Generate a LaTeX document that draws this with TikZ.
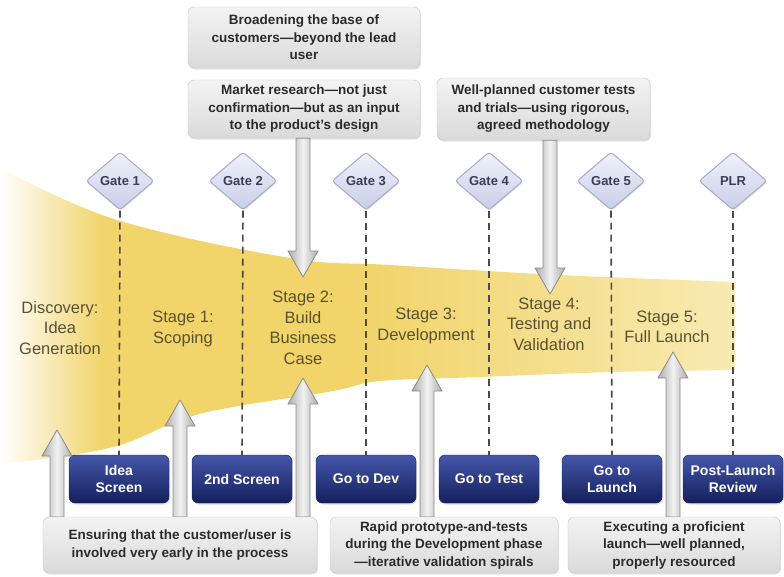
\documentclass[tikz,border=0pt]{standalone}
\usepackage{fontspec}
\setmainfont{Liberation Sans}
\usetikzlibrary{shapes.geometric,shadows,calc}

\definecolor{funY}{HTML}{F1D46A}
\definecolor{funL}{HTML}{F8EAB2}
\definecolor{stagetxt}{HTML}{5A5132}
\definecolor{navyT}{HTML}{4557AA}
\definecolor{navyB}{HTML}{141F5C}
\definecolor{gateT}{HTML}{F0F2FA}
\definecolor{gateB}{HTML}{C8CEE8}
\definecolor{gateD}{HTML}{A3AACB}
\definecolor{gatetxt}{HTML}{3A3F55}
\definecolor{noteT}{HTML}{F3F3F3}
\definecolor{noteB}{HTML}{DADADA}
\definecolor{noteD}{HTML}{C4C4C4}
\definecolor{notetxt}{HTML}{2B2B2B}
\definecolor{arrD}{HTML}{8A8A8A}
\definecolor{arrM}{HTML}{F2F2F2}
\definecolor{arrS}{HTML}{ABABAB}
\definecolor{dashc}{HTML}{4A4A4A}

% white on the left, full yellow in the body, paler towards the narrow end
\pgfdeclarehorizontalshading{funnelfill}{100bp}{color(0bp)=(white); color(25bp)=(white); color(32bp)=(funY); color(50bp)=(funY); color(75bp)=(funL); color(100bp)=(funL)}

% broad hollow-looking arrow from #1 to #2
\newcommand\fatarrow[2]{%
  \coordinate (fa-h) at ($(#2)!26pt!(#1)$);
  \shadedraw[left color=arrS, right color=arrS, middle color=arrM, draw=arrD, line width=0.8pt, line join=round]
    ($(#1)!7pt!90:(#2)$) -- ($(fa-h)!7pt!90:(#2)$) -- ($(fa-h)!15pt!90:(#2)$) -- (#2)
    -- ($(fa-h)!15pt!-90:(#2)$) -- ($(fa-h)!7pt!-90:(#2)$) -- ($(#1)!7pt!-90:(#2)$) -- cycle;}

\tikzset{
  gate/.style={diamond, draw=gateD, line width=1pt, top color=gateT, bottom color=gateB,
    minimum width=68pt, minimum height=58pt, inner sep=0pt, rounded corners=3pt,
    text=gatetxt, font=\bfseries\fontsize{13}{14}\selectfont,
    drop shadow={opacity=0.18, shadow xshift=0.8pt, shadow yshift=-1.2pt}},
  navybox/.style={rounded corners=6pt, top color=navyT, bottom color=navyB, draw=navyB,
    minimum width=100pt, minimum height=48pt, inner sep=0pt, text=white, align=center,
    font=\bfseries\fontsize{14}{16.5}\selectfont,
    drop shadow={opacity=0.25, shadow xshift=1pt, shadow yshift=-1.5pt}},
  note/.style={rounded corners=6pt, top color=noteT, bottom color=noteB, draw=noteD,
    inner sep=0pt, align=center, text=notetxt,
    font=\bfseries\fontsize{13.5}{17.5}\selectfont,
    drop shadow={opacity=0.22, shadow xshift=1pt, shadow yshift=-1.5pt}},
  stage/.style={align=center, text=stagetxt, font=\fontsize{16.5}{20.5}\selectfont},
  gateline/.style={draw=dashc, line width=1.6pt, dash pattern=on 7pt off 5pt}
}

\begin{document}
\begin{tikzpicture}[x=1pt, y=-1pt]
\useasboundingbox (0,0) rectangle (784,576);

% the narrowing funnel of stages
\shade[shading=funnelfill]
  plot[smooth, tension=0.6] coordinates {(0,168) (117,220) (290,258) (390,265) (560,275) (735,282)}
  -- (735,370)
  -- plot[smooth, tension=0.6] coordinates {(735,370) (613,372) (480,377) (380,381) (333,391) (233,407) (183,419) (117,446) (43,459) (0,463)}
  -- cycle;

% gates
\node[gate] (g1) at (120,181) {Gate 1};
\node[gate] (g2) at (243,181) {Gate 2};
\node[gate] (g3) at (366,181) {Gate 3};
\node[gate] (g4) at (489,181) {Gate 4};
\node[gate] (g5) at (611,181) {Gate 5};
\node[gate] (g6) at (733,181) {PLR};

% gate decisions
\node[navybox] (d1) at (119,479) {Idea\\Screen};
\node[navybox] (d2) at (242,479) {2nd Screen};
\node[navybox] (d3) at (366,479) {Go to Dev};
\node[navybox] (d4) at (489,479) {Go to Test};
\node[navybox] (d5) at (612,479) {Go to\\Launch};
\node[navybox] (d6) at (733,479) {Post-Launch\\Review};

\foreach \i in {1,...,6} \draw[gateline] (g\i.south) -- (d\i.north);

% stages
\node[stage] (s0) at (60,328) {Discovery:\\Idea\\Generation};
\node[stage] (s1) at (183,329) {Stage 1:\\Scoping};
\node[stage] (s2) at (303,328) {Stage 2:\\Build\\Business\\Case};
\node[stage] (s3) at (426,326) {Stage 3:\\Development};
\node[stage] (s4) at (549,324) {Stage 4:\\Testing and\\Validation};
\node[stage] (s5) at (667,327) {Stage 5:\\Full Launch};

% remarks
\node[note, minimum width=232pt, minimum height=61pt] (nA) at (304,37.5)
  {Broadening the base of\\customers—beyond the lead\\user};
\node[note, minimum width=232pt, minimum height=58pt] (nB) at (304,109)
  {Market research—not just\\confirmation—but as an input\\to the product's design};
\node[note, minimum width=213pt, minimum height=62pt] (nC) at (543.5,109)
  {Well-planned customer tests\\and trials—using rigorous,\\agreed methodology};

% arrow ends
\coordinate (tB) at (303,277);
\coordinate (tC) at (550,294);
\coordinate (sB) at (tB |- nB.south);
\coordinate (sC) at (tC |- nC.south);
\coordinate (t1) at (57,430);
\coordinate (t2) at (180,400);
\coordinate (t3) at (303,378);
\coordinate (t4) at (427,365);
\coordinate (t5) at (673,352);
\coordinate (a1) at (57,517);
\coordinate (a2) at (180,517);
\coordinate (a3) at (303,517);
\coordinate (a4) at (427,517);
\coordinate (a5) at (673,517);

\fatarrow{sB}{tB}
\fatarrow{sC}{tC}
\fatarrow{a1}{t1}
\fatarrow{a2}{t2}
\fatarrow{a3}{t3}
\fatarrow{a4}{t4}
\fatarrow{a5}{t5}

% lower remarks, over the arrow feet
\node[note, minimum width=274pt, minimum height=56pt] (n1) at (180,545)
  {Ensuring that the customer/user is\\involved very early in the process};
\node[note, minimum width=228pt, minimum height=56pt] (n2) at (444,545)
  {Rapid prototype-and-tests\\during the Development phase\\—iterative validation spirals};
\node[note, minimum width=212pt, minimum height=56pt] (n3) at (674,545)
  {Executing a proficient\\launch—well planned,\\properly resourced};
\end{tikzpicture}
\end{document}
